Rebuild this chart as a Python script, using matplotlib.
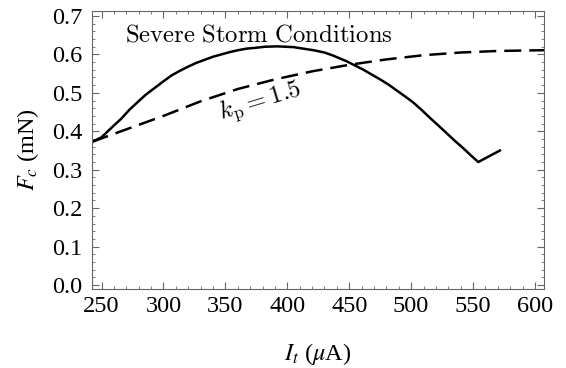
import matplotlib.pyplot as plt
from matplotlib.ticker import MultipleLocator

# solid curve
it_solid = [242.3, 249.8, 258, 266.0, 272.5, 279.5, 286, 293.0, 300, 306.4, 313,
            319.8, 326.5, 333.3, 340, 346.7, 353.5, 360.2, 367, 373.7, 382, 392,
            405, 421, 430, 437, 448, 461, 468, 475, 482, 488, 495, 501.7, 508,
            515.2, 522, 528.7, 535, 542.1, 548, 554.2, 571.7]
fc_solid = [0.3725, 0.384, 0.409, 0.433, 0.456, 0.477, 0.496, 0.513, 0.530, 0.545,
            0.557, 0.568, 0.578, 0.586, 0.594, 0.600, 0.606, 0.611, 0.615, 0.617,
            0.620, 0.621, 0.619, 0.611, 0.605, 0.597, 0.582, 0.561, 0.548, 0.535,
            0.521, 0.507, 0.491, 0.475, 0.457, 0.435, 0.415, 0.395, 0.376, 0.356,
            0.338, 0.320, 0.350]

# dashed curve, k_p = 1.5
it_dash = [242.3, 270, 300, 330, 360, 390, 420, 450, 480, 510, 540, 570, 607.3]
fc_dash = [0.3725, 0.405, 0.440, 0.478, 0.510, 0.535, 0.556, 0.573, 0.587, 0.598,
           0.605, 0.609, 0.611]

plt.rcParams['font.family'] = 'Liberation Serif'
plt.rcParams['mathtext.fontset'] = 'stix'

fig = plt.figure(figsize=(5.66, 3.68), dpi=100)
ax = fig.add_axes([92 / 566, 1 - 289 / 368, 452 / 566, 278 / 368])

ax.plot(it_solid, fc_solid, color='k', lw=1.8, solid_joinstyle='round')
ax.plot(it_dash, fc_dash, color='k', lw=1.8, ls=(0, (6.8, 3.2)))

ax.text(269, 0.650, r'$\mathrm{Severe\ Storm\ Conditions}$', fontsize=17.8,
        va='center', math_fontfamily='cm')
ax.text(378.4, 0.478, r'$k_{\mathrm{p}} = 1.5$', fontsize=18, rotation=17,
        ha='center', va='center', math_fontfamily='cm')

ax.set_xlim(242.3, 607.3)
ax.set_ylim(-0.0104, 0.713)
ax.xaxis.set_major_locator(MultipleLocator(50))
ax.xaxis.set_minor_locator(MultipleLocator(10))
ax.yaxis.set_major_locator(MultipleLocator(0.1))
ax.yaxis.set_minor_locator(MultipleLocator(0.02))
ax.set_yticks([0.0, 0.1, 0.2, 0.3, 0.4, 0.5, 0.6, 0.7])
ax.set_yticklabels(['0.0', '0.1', '0.2', '0.3', '0.4', '0.5', '0.6', '0.7'])
ax.tick_params(which='both', direction='in', top=True, right=True,
               color='0.4', labelsize=17.5)
ax.tick_params(axis='x', pad=5)
ax.tick_params(axis='y', pad=7)
ax.tick_params(which='major', length=5)
ax.tick_params(which='minor', length=2.5)
for s in ax.spines.values():
    s.set_color('0.4')

ax.set_xlabel(r'$I_t$ ($\mu$A)', fontsize=17.5, labelpad=17)
ax.set_ylabel(r'$F_c$ (mN)', fontsize=17.5, labelpad=8)

fig.savefig('out.png', dpi=100)
